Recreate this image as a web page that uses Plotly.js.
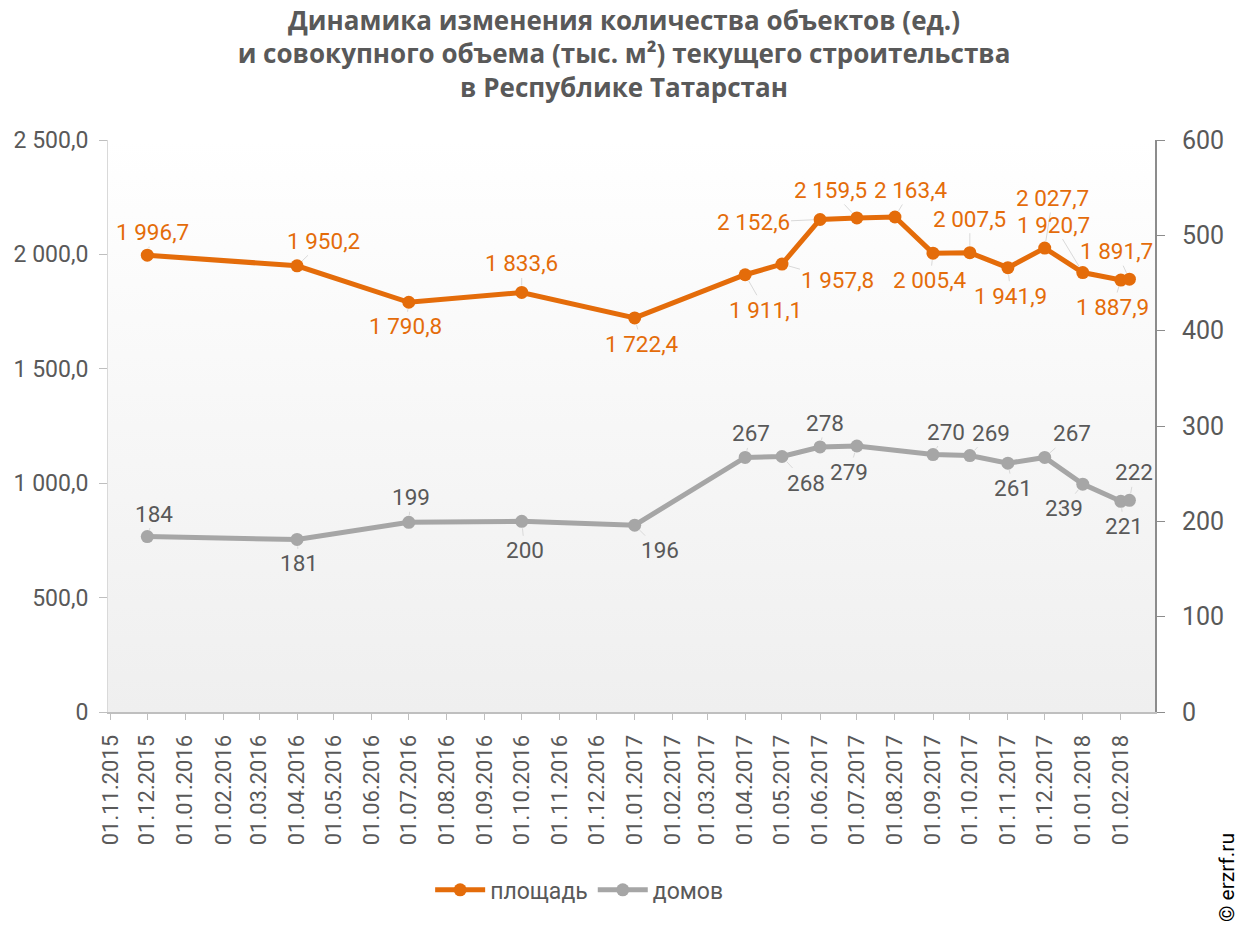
<!DOCTYPE html>
<html>
<head>
<meta charset="utf-8">
<script src="https://cdn.plot.ly/plotly-3.0.1.min.js"></script>
<style>html,body{margin:0;padding:0;background:#fff;}#chart{width:1248px;height:926px;}</style>
</head>
<body>
<div id="chart"></div>
<script>
// ---- data ----
const dates = ['2015-12-01','2016-04-01','2016-07-01','2016-10-01','2017-01-01','2017-04-01','2017-05-01','2017-06-01','2017-07-01','2017-08-01','2017-09-01','2017-10-01','2017-11-01','2017-12-01','2018-01-01','2018-02-01','2018-02-08'];
const area = [1996.7,1950.2,1790.8,1833.6,1722.4,1911.1,1957.8,2152.6,2159.5,2163.4,2005.4,2007.5,1941.9,2027.7,1920.7,1887.9,1891.7];
const houses = [184,181,199,200,196,267,268,278,279,null,270,269,261,267,239,221,222];
const seriesNames = ['площадь','домов'];
const leftTickVals = [0,500,1000,1500,2000,2500];
const leftTickText = ['0','500,0','1 000,0','1 500,0','2 000,0','2 500,0'];
const rightTickVals = [0,100,200,300,400,500,600];
const titleText = 'Динамика изменения количества объектов (ед.)<br>и совокупного объема (тыс. м²) текущего строительства<br>в Республике Татарстан';

// ---- label placement (pixel offsets of label from its point) ----
const areaLabelOffsets = [[5,-23],[26,-25],[-3,24],[0,-29],[7,26],[20,35],[56,16],[-67,3],[-26,-28],[16,-27],[-3,27],[0,-34],[3,28],[8,-50],[-29,-48],[-8,27],[-13,-28]];
const houseLabelOffsets = [[7,-23],[2,24],[2,-25],[3,29],[25,25],[6,-24],[24,26],[5,-24],[-8,26],null,[13,-23],[21,-23],[5,25],[27,-24],[-19,24],[3,25],[5,-28]];

const ORANGE = '#E46C0A';
const GREY = '#A6A6A6';
const TEXT = '#595959';
const FONT = 'Roboto, "Noto Sans", sans-serif';

function fmt(v, dec) {
  const s = v.toFixed(dec);
  const parts = s.split('.');
  const intPart = parts[0].replace(/\B(?=(\d{3})+(?!\d))/g, ' ');
  return parts.length > 1 ? intPart + ',' + parts[1] : intPart;
}

const annotations = [];
dates.forEach((d, i) => {
  if (area[i] != null) {
    const o = areaLabelOffsets[i];
    annotations.push({x: d, y: area[i], xref: 'x', yref: 'y', text: fmt(area[i], 1),
      showarrow: true, arrowhead: 0, arrowwidth: 1, arrowcolor: '#D9D9D9', standoff: 7,
      ax: o[0], ay: o[1], font: {family: FONT, size: 22.5, color: ORANGE}});
  }
  if (houses[i] != null) {
    const o = houseLabelOffsets[i];
    annotations.push({x: d, y: houses[i], xref: 'x', yref: 'y2', text: fmt(houses[i], 0),
      showarrow: true, arrowhead: 0, arrowwidth: 1, arrowcolor: '#D9D9D9', standoff: 7,
      ax: o[0], ay: o[1], font: {family: FONT, size: 22.5, color: TEXT}});
  }
});
annotations.push({text: '© erzrf.ru', xref: 'paper', yref: 'paper', x: 1.069, y: -0.29,
  xanchor: 'center', yanchor: 'middle',
  showarrow: false, textangle: -90, font: {family: FONT, size: 21, color: '#000'}});

const svgGrad = "<svg xmlns='http://www.w3.org/2000/svg' width='100' height='100' preserveAspectRatio='none'><defs><linearGradient id='g' x1='0' y1='0' x2='0' y2='1'><stop offset='0' stop-color='#ffffff'/><stop offset='1' stop-color='#efefef'/></linearGradient></defs><rect width='100' height='100' fill='url(#g)'/></svg>";

const traces = [
  {x: dates, y: area, name: seriesNames[0], type: 'scatter', mode: 'lines+markers', yaxis: 'y',
   line: {color: ORANGE, width: 5}, marker: {color: ORANGE, size: 13}, connectgaps: true, hoverinfo: 'skip'},
  {x: dates, y: houses, name: seriesNames[1], type: 'scatter', mode: 'lines+markers', yaxis: 'y2',
   line: {color: GREY, width: 5}, marker: {color: GREY, size: 13}, connectgaps: true, hoverinfo: 'skip'}
];

const layout = {
  width: 1248, height: 926,
  margin: {l: 108, r: 93, t: 140, b: 214},
  paper_bgcolor: '#ffffff', plot_bgcolor: 'rgba(0,0,0,0)',
  font: {family: FONT, color: TEXT},
  title: {text: titleText, x: 0.5, xref: 'container', y: 0.968, yref: 'container', yanchor: 'top',
    font: {family: '"Open Sans", Roboto, sans-serif', size: 26, color: TEXT, weight: 'bold'}},
  xaxis: {type: 'date', range: ['2015-10-30', '2018-02-28T20:00'], tick0: '2015-11-01', dtick: 'M1',
    tickformat: '%d.%m.%Y', tickangle: -90, ticks: 'outside', ticklen: 6, tickcolor: '#BFBFBF',
    ticklabelstandoff: 6,
    showline: true, linecolor: '#BFBFBF', linewidth: 2, showgrid: false, zeroline: false,
    tickfont: {family: FONT, size: 22, color: TEXT}},
  yaxis: {range: [0, 2500], tickvals: leftTickVals, ticktext: leftTickText, ticks: 'outside', ticklen: 8,
    tickcolor: '#BFBFBF', showline: true, linecolor: '#D9D9D9', linewidth: 1, showgrid: false, zeroline: false,
    ticklabelstandoff: 6,
    tickfont: {family: FONT, size: 23, color: TEXT}},
  yaxis2: {range: [0, 600], tickvals: rightTickVals, overlaying: 'y', side: 'right', ticks: 'outside', ticklen: 8,
    tickcolor: '#8C8C8C', showline: true, linecolor: '#8C8C8C', linewidth: 2, showgrid: false, zeroline: false,
    ticklabelstandoff: 12,
    tickfont: {family: FONT, size: 25, color: TEXT}},
  showlegend: true,
  legend: {orientation: 'h', x: 0.45, xanchor: 'center', y: -0.311, yanchor: 'middle',
    font: {family: FONT, size: 23, color: TEXT}, itemwidth: 50},
  images: [{source: 'data:image/svg+xml;charset=utf-8,' + encodeURIComponent(svgGrad),
    xref: 'paper', yref: 'paper', x: 0, y: 1, sizex: 1, sizey: 1, sizing: 'stretch',
    xanchor: 'left', yanchor: 'top', layer: 'below'}],
  annotations: annotations
};

Plotly.newPlot('chart', traces, layout, {displayModeBar: false, staticPlot: true});
</script>
</body>
</html>
